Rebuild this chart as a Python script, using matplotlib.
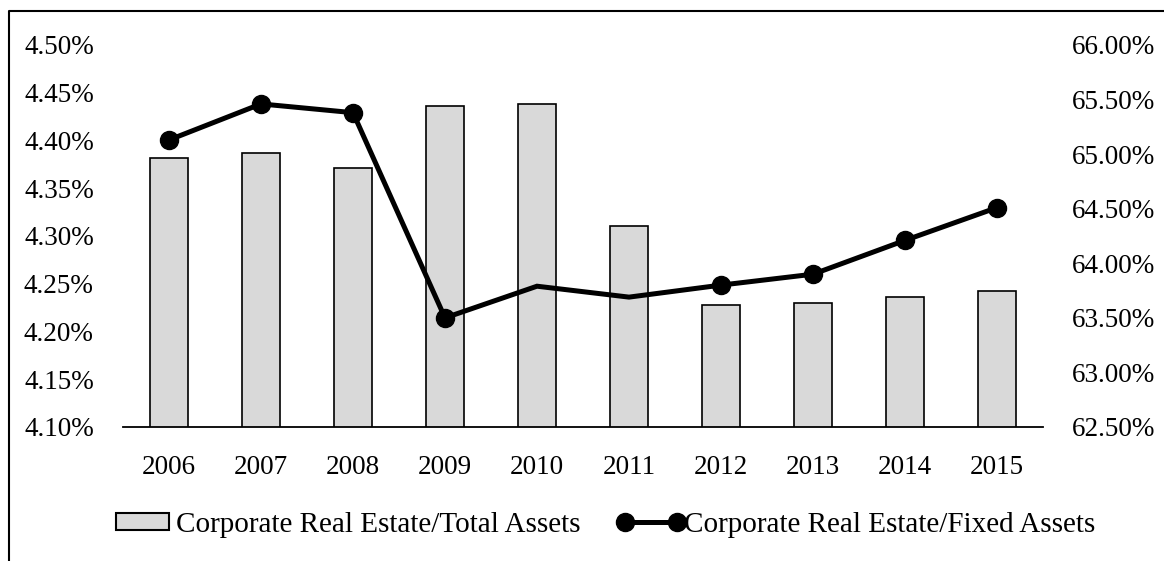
import matplotlib
matplotlib.use("Agg")
import matplotlib.pyplot as plt
from matplotlib.lines import Line2D
from matplotlib.patches import Patch
from matplotlib.legend_handler import HandlerLine2D
from matplotlib.ticker import FuncFormatter, MultipleLocator

years = ["2006", "2007", "2008", "2009", "2010", "2011", "2012", "2013", "2014", "2015"]
total_assets_ratio = [4.382, 4.387, 4.371, 4.436, 4.438, 4.310, 4.228, 4.230, 4.236, 4.242]
fixed_assets_ratio = [65.13, 65.46, 65.38, 63.50, 63.79, 63.69, 63.80, 63.90, 64.21, 64.51]
marked_points = [0, 1, 2, 3, 6, 7, 8, 9]
bar_label = "Corporate Real Estate/Total Assets"
line_label = "Corporate Real Estate/Fixed Assets"

plt.rcParams['font.family'] = ['Liberation Serif', 'DejaVu Serif']
FS = 19.5
LFS = 21

W, H = 1164, 561
fig = plt.figure(figsize=(W / 100, H / 100), dpi=100)
ax = fig.add_axes([123 / W, 1 - 427 / H, (1043 - 123) / W, (427 - 45) / H])
ax2 = ax.twinx()

x = list(range(len(years)))
ax.bar(x, total_assets_ratio, width=0.41, color="#d9d9d9", edgecolor="black", linewidth=1.2, zorder=2)
ax.set_ylim(4.10, 4.50)
ax.yaxis.set_major_locator(MultipleLocator(0.05))
ax.yaxis.set_major_formatter(FuncFormatter(lambda v, p: f"{v:.2f}%"))
ax.set_xlim(-0.5, len(years) - 0.5)
ax.set_xticks(x)
ax.set_xticklabels(years)

ax2.plot(x, fixed_assets_ratio, color="black", linewidth=3.6, marker="o", markersize=13,
         markevery=marked_points, solid_joinstyle="miter", zorder=3)
ax2.set_ylim(62.50, 66.00)
ax2.yaxis.set_major_locator(MultipleLocator(0.5))
ax2.yaxis.set_major_formatter(FuncFormatter(lambda v, p: f"{v:.2f}%"))

for a in (ax, ax2):
    for s in ("top", "left", "right"):
        a.spines[s].set_visible(False)
    a.spines["bottom"].set_visible(a is ax)
    a.tick_params(length=0, labelsize=FS, colors="black")
ax.spines["bottom"].set_linewidth(1.3)
ax.tick_params(axis="y", pad=21)
ax.tick_params(axis="x", pad=20)
ax2.tick_params(axis="y", pad=21)

bar_handle = Patch(facecolor="#d9d9d9", edgecolor="black", linewidth=1.5)
line_handle = Line2D([], [], color="black", linewidth=3.6, marker="o", markersize=13)
fig.legend([bar_handle, line_handle], [bar_label, line_label], loc="center",
           bbox_to_anchor=(606 / W, 1 - 525 / H),
           ncol=2, frameon=False, fontsize=LFS, handlelength=1.8, handleheight=0.55,
           handletextpad=0.25, columnspacing=1.5, numpoints=2,
           handler_map={line_handle: HandlerLine2D(marker_pad=0, numpoints=2)})

fig.add_artist(Line2D([9 / W, 9 / W, 1.0], [0.0, 1 - 10.5 / H, 1 - 10.5 / H],
                      transform=fig.transFigure, color="black", linewidth=1.5))

fig.savefig("out.png", dpi=100)
